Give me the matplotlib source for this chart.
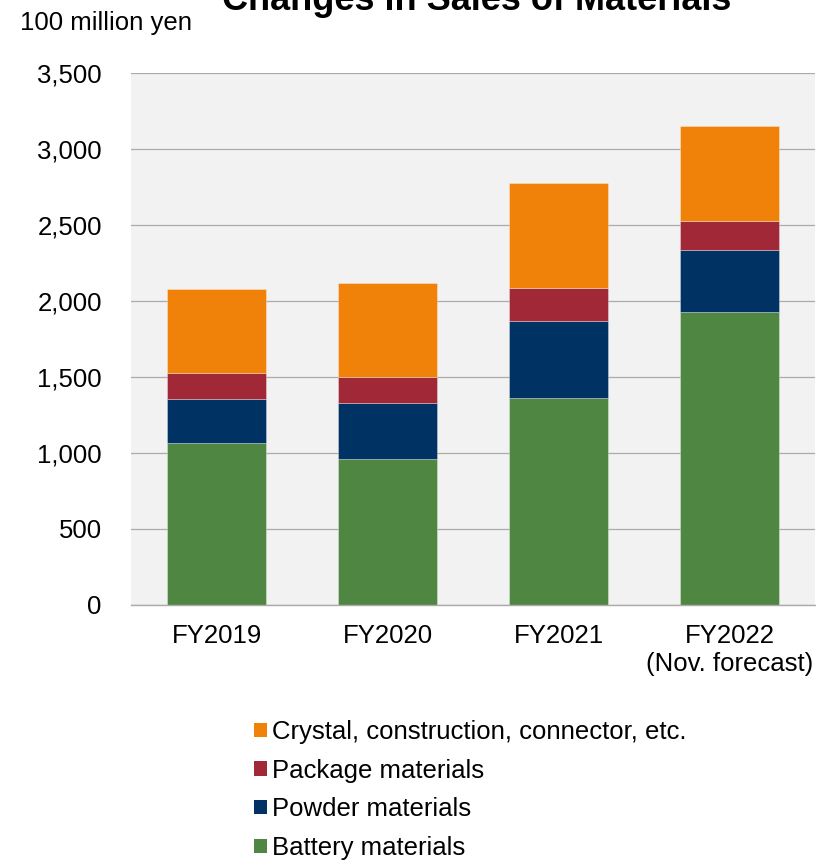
import matplotlib
matplotlib.use("Agg")
import matplotlib.pyplot as plt
from matplotlib.patches import Patch
from matplotlib.ticker import FuncFormatter
import numpy as np

plt.rcParams["font.family"] = ["Liberation Sans", "DejaVu Sans"]

# ── data (100 million yen) ──────────────────────────────────────────────
years    = ["FY2019", "FY2020", "FY2021", "FY2022\n(Nov. forecast)"]
battery  = [1066, 958, 1360, 1930]
powder   = [289, 369, 511, 408]
package  = [173, 173, 215, 190]
crystal  = [551, 616, 693, 622]

series = [
    ("Battery materials", battery, "#4F8642"),
    ("Powder materials", powder, "#003264"),
    ("Package materials", package, "#A02837"),
    ("Crystal, construction, connector, etc.", crystal, "#F08109"),
]

GRID = "#ABABAB"
FS = 18.5

fig = plt.figure(figsize=(8.16, 8.61), dpi=100)
ax = fig.add_axes([131 / 816, 1 - 605 / 861, (815 - 131) / 816, (605 - 73) / 861])
ax.set_facecolor("#F2F2F2")

x = np.arange(len(years))
bottom = np.zeros(len(years))
for name, vals, col in series:
    ax.bar(x, vals, width=0.575, bottom=bottom, color=col,
           edgecolor=(1, 1, 1, 0.45), linewidth=0.5, zorder=3)
    bottom += np.array(vals)

ax.set_xlim(-0.5, len(years) - 0.5)
ax.set_ylim(0, 3500)
ax.set_yticks(np.arange(0, 3501, 500))
ax.yaxis.set_major_formatter(FuncFormatter(lambda v, p: f"{int(v):,}"))
ax.set_xticks(x)
ax.set_xticklabels(years)
ax.tick_params(axis="both", length=0, labelsize=FS)
ax.tick_params(axis="x", pad=14)
ax.tick_params(axis="y", pad=21)
ax.yaxis.grid(True, color=GRID, lw=0.9, zorder=1)
for s in ("top", "right", "left"):
    ax.spines[s].set_visible(False)
ax.spines["bottom"].set_color(GRID)
ax.spines["bottom"].set_linewidth(1.0)
ax.spines["bottom"].set_zorder(4)

# title sits partly above the canvas, as in the source slide
fig.text(477 / 816, 1 - 10 / 861, "Changes in Sales of Materials",
         ha="center", va="baseline", fontsize=26, fontweight="bold")
fig.text(20 / 816, 1 - 23 / 861, "100 million yen", ha="left", va="center",
         fontsize=FS)

handles = [Patch(facecolor=col, edgecolor="none", label=name)
           for name, vals, col in series[::-1]]
fig.legend(handles=handles, loc="upper left",
           bbox_to_anchor=(254 / 816, 1 - 720 / 861), frameon=False,
           fontsize=FS, borderpad=0, borderaxespad=0,
           handlelength=0.49, handleheight=0.49, handletextpad=0.23,
           labelspacing=0.57)

fig.savefig("out.png", dpi=100, facecolor="white")
